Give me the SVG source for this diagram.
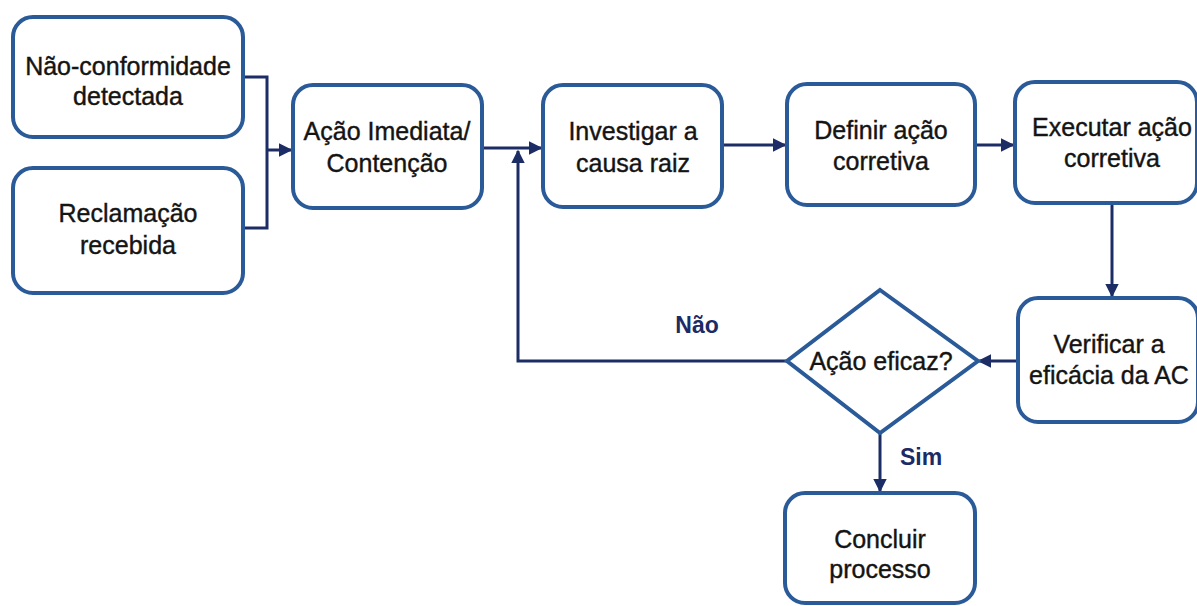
<svg xmlns="http://www.w3.org/2000/svg" width="1197" height="606" viewBox="0 0 1197 606">
<defs>
<style>
.box{fill:#fff;stroke:#2a5a98;stroke-width:4}
.t{font-family:"Liberation Sans",Arial,sans-serif;font-size:25px;fill:#141414;stroke:#141414;stroke-width:0.4;text-anchor:middle}
.lbl{font-family:"Liberation Sans",Arial,sans-serif;font-size:23px;font-weight:bold;fill:#1c2a66;text-anchor:middle}
.c{fill:none;stroke:#1c2d66;stroke-width:3}
</style>
<marker id="ah" viewBox="0 0 10 10" refX="9" refY="5" markerWidth="4.5" markerHeight="4.5" orient="auto" markerUnits="strokeWidth">
<path d="M0,0 L10,5 L0,10 z" fill="#1c2d66"/>
</marker>
</defs>
<rect width="1197" height="606" fill="#fff"/>
<g id="connectors">
<path class="c" d="M243,77 H267 V228 H243"/>
<path class="c" d="M267,150 H291" marker-end="url(#ah)"/>
<path class="c" d="M482,148 H541" marker-end="url(#ah)"/>
<path class="c" d="M722,145 H785" marker-end="url(#ah)"/>
<path class="c" d="M975,145 H1013" marker-end="url(#ah)"/>
<path class="c" d="M1112,203 V296" marker-end="url(#ah)"/>
<path class="c" d="M1018,361 H979" marker-end="url(#ah)"/>
<path class="c" d="M880,433 V491" marker-end="url(#ah)"/>
<path class="c" d="M787,361 H518 V151" marker-end="url(#ah)"/>
</g>
<g id="n1"><rect class="box" x="13" y="17" width="230" height="120" rx="20"/>
<text class="t" x="128" y="75">Não-conformidade</text><text class="t" x="128" y="105">detectada</text></g>
<g id="n2"><rect class="box" x="13" y="168" width="230" height="125" rx="20"/>
<text class="t" x="128" y="222">Reclamação</text><text class="t" x="128" y="254">recebida</text></g>
<g id="n3"><rect class="box" x="293" y="85" width="189" height="123" rx="20"/>
<text class="t" x="387" y="140">Ação Imediata/</text><text class="t" x="387" y="172">Contenção</text></g>
<g id="n4"><rect class="box" x="543" y="85" width="179" height="122" rx="20"/>
<text class="t" x="633" y="140">Investigar a</text><text class="t" x="633" y="172">causa raiz</text></g>
<g id="n5"><rect class="box" x="787" y="84" width="188" height="121" rx="20"/>
<text class="t" x="881" y="139">Definir ação</text><text class="t" x="881" y="170">corretiva</text></g>
<g id="n6"><rect class="box" x="1015" y="82" width="182" height="121" rx="20"/>
<text class="t" x="1112" y="136">Executar ação</text><text class="t" x="1112" y="167">corretiva</text></g>
<g id="n7"><rect class="box" x="1018" y="298" width="180" height="124" rx="20"/>
<text class="t" x="1109" y="353">Verificar a</text><text class="t" x="1109" y="384">eficácia da AC</text></g>
<g id="n8"><polygon class="box" points="880,290 978,361 880,433 787,361"/>
<text class="t" x="881" y="370">Ação eficaz?</text></g>
<g id="n9"><rect class="box" x="785" y="493" width="190" height="110" rx="20"/>
<text class="t" x="880" y="548">Concluir</text><text class="t" x="880" y="578">processo</text></g>
<g id="labels">
<text class="lbl" x="697" y="333">Não</text>
<text class="lbl" x="921" y="465">Sim</text>
</g>
</svg>
